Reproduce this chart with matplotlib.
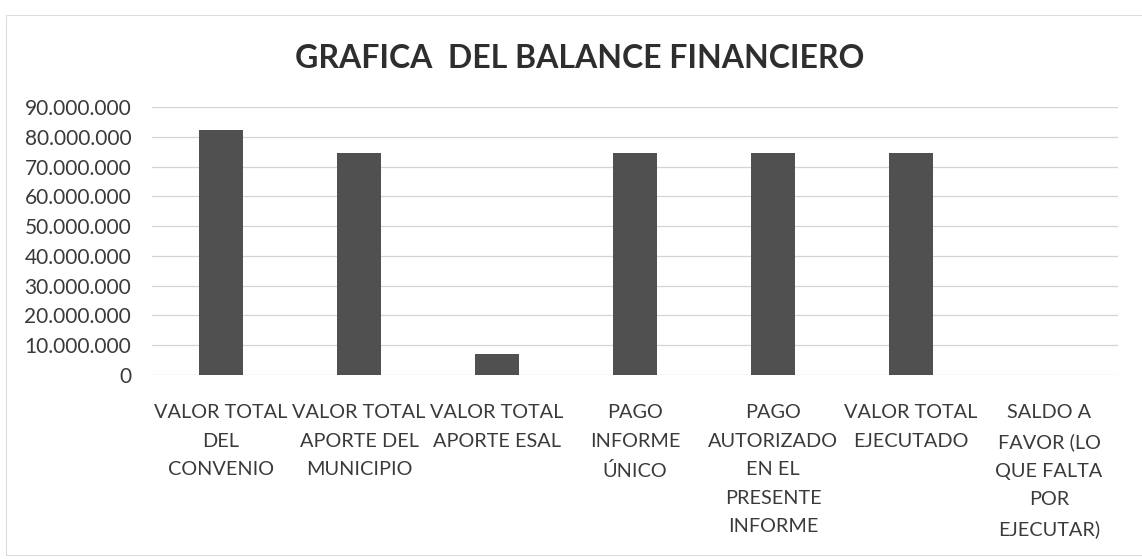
import matplotlib
matplotlib.use("Agg")
import matplotlib.pyplot as plt
from matplotlib.ticker import FuncFormatter, MultipleLocator
from matplotlib.patches import Rectangle

plt.rcParams['font.family'] = ['Lato', 'DejaVu Sans']

# data
categorias = ["VALOR TOTAL\nDEL\nCONVENIO",
              "VALOR TOTAL\nAPORTE DEL\nMUNICIPIO",
              "VALOR TOTAL\nAPORTE ESAL",
              "PAGO\nINFORME\nÚNICO",
              "PAGO\nAUTORIZADO\nEN EL\nPRESENTE\nINFORME",
              "VALOR TOTAL\nEJECUTADO",
              "SALDO A\nFAVOR (LO\nQUE FALTA\nPOR\nEJECUTAR)"]
valores = [82400000, 74400000, 7000000, 74600000, 74600000, 74500000, 0]

titulo = "GRAFICA  DEL BALANCE FINANCIERO"
txt_color = '#3a3a3a'

fig = plt.figure(figsize=(11.42, 5.59), dpi=100)
ax = fig.add_axes([152/1142, (559-375)/559, 966/1142, (375-107)/559])

x = range(len(valores))
ax.bar(x, valores, width=0.32, color='#505050', zorder=3)

ax.set_xlim(-0.5, len(valores) - 0.5)
ax.set_ylim(0, 90000000)
ax.yaxis.set_major_locator(MultipleLocator(10000000))
ax.yaxis.set_major_formatter(FuncFormatter(lambda v, p: f"{int(v):,}".replace(',', '.')))
ax.grid(axis='y', color='#d4d4d4', linewidth=0.9, zorder=0)

ax.set_xticks(list(x))
ax.set_xticklabels(categorias, fontsize=14.3, color=txt_color, linespacing=1.82)
ax.tick_params(axis='x', length=0, pad=21)
ax.tick_params(axis='y', length=0, pad=15, labelsize=15, labelcolor=txt_color)
for s in ax.spines.values():
    s.set_visible(False)

fig.text(0.508, (559-59)/559, titulo, ha='center', va='center',
         fontsize=23, fontweight='bold', color='#2e2e2e')

# light chart-area border
fig.patches.append(Rectangle((6/1142, 4/559), 1140/1142, 540/559, transform=fig.transFigure,
                             fill=False, edgecolor='#dcdcdc', linewidth=0.8))

fig.savefig('out.png', dpi=100)
